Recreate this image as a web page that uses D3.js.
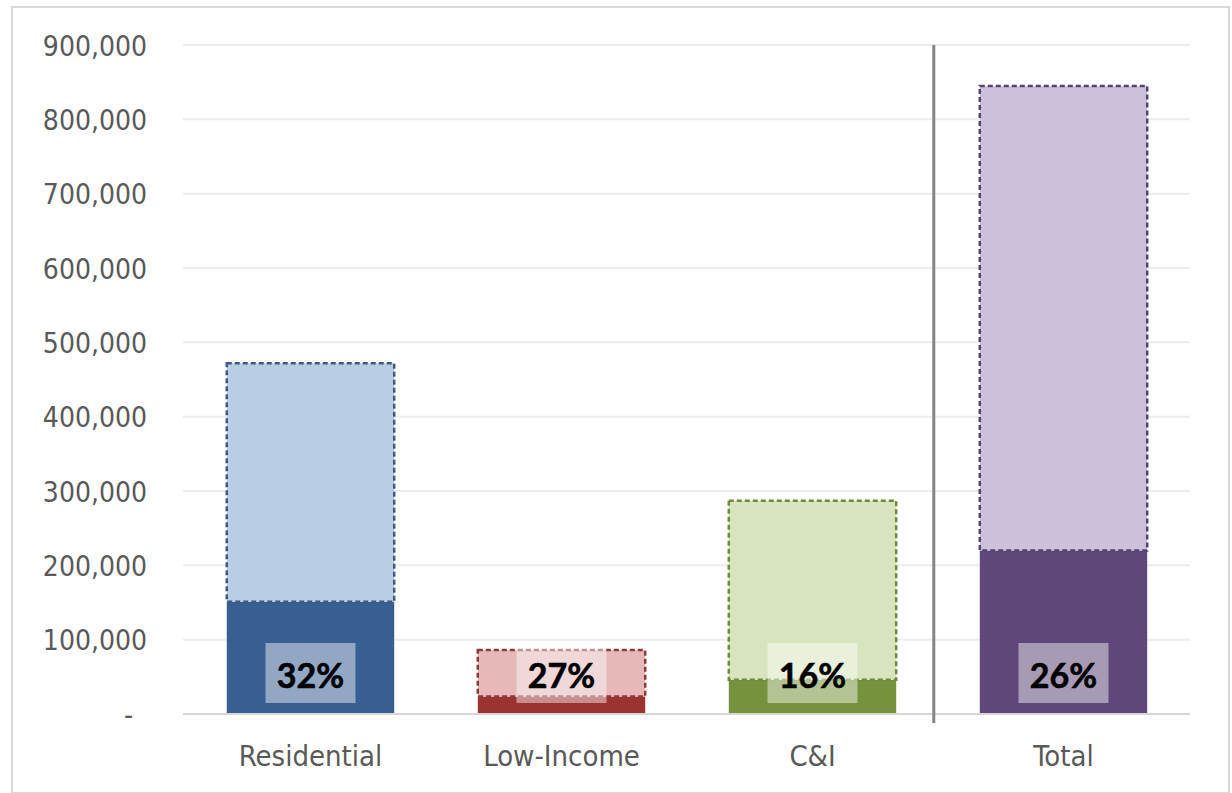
<!DOCTYPE html>
<html>
<head>
<meta charset="utf-8">
<script src="https://cdn.jsdelivr.net/npm/d3@7"></script>
<style>
  html, body { margin: 0; padding: 0; background: #fff; }
  svg { display: block; }
</style>
</head>
<body>
<svg id="chart" width="1232" height="793"></svg>
<script>
// Program segments and their savings: full potential vs. achieved portion
const categories = ["Residential", "Low-Income", "C&I", "Total"];
const potential  = [472000, 86000, 287000, 845000];
const achieved   = [151000, 23500, 46000, 220000];
const yTicks     = [0, 100000, 200000, 300000, 400000, 500000, 600000, 700000, 800000, 900000];

// Fill colours per segment: [achieved (dark), remaining (light)]
const darkColors  = ["#375F92", "#9B3430", "#76923C", "#5F4879"];
const lightColors = ["#B9CDE5", "#E6B9B8", "#D7E4BD", "#CCC0DA"];
const edgeColors  = ["#3E5A84", "#8E3A38", "#6E8A3A", "#54456F"];

const svg = d3.select("#chart");

// chart frame
svg.append("rect")
  .attr("x", 12).attr("y", 7)
  .attr("width", 1217).attr("height", 786)
  .attr("fill", "#fff")
  .attr("stroke", "#d9d9d9")
  .attr("stroke-width", 2);

const x = d3.scaleBand()
  .domain(categories)
  .range([185, 1189])
  .paddingInner(0.333)
  .paddingOuter(0.1665);

const y = d3.scaleLinear()
  .domain([0, 900000])
  .range([714, 45]);

// horizontal gridlines
svg.append("g")
  .selectAll("line")
  .data(yTicks.filter(d => d > 0))
  .join("line")
  .attr("x1", 183).attr("x2", 1190)
  .attr("y1", d => y(d)).attr("y2", d => y(d))
  .attr("stroke", "#ececec")
  .attr("stroke-width", 2);

// y-axis labels
const yAxis = d3.axisLeft(y)
  .tickValues(yTicks)
  .tickSize(0)
  .tickPadding(0)
  .tickFormat(d => d === 0 ? "-" : d3.format(",")(d));

const yg = svg.append("g")
  .attr("transform", "translate(147,0)")
  .call(yAxis);
yg.select(".domain").remove();
yg.selectAll("text")
  .attr("font-family", "'DejaVu Sans Condensed', 'DejaVu Sans', sans-serif")
  .attr("font-size", 28)
  .attr("fill", "#595959")
  .attr("dy", "0.36em")
  .attr("dx", d => d === 0 ? -14 : 0);

const rows = categories.map((c, i) => ({
  cat: c,
  total: potential[i],
  done: achieved[i],
  dark: darkColors[i],
  light: lightColors[i],
  edge: edgeColors[i]
}));

const bars = svg.append("g").selectAll("g")
  .data(rows)
  .join("g");

// achieved portion
bars.append("rect")
  .attr("x", d => x(d.cat))
  .attr("width", x.bandwidth())
  .attr("y", d => y(d.done))
  .attr("height", d => y(0) - y(d.done))
  .attr("fill", d => d.dark);

// remaining potential, stacked on top with a dashed outline
bars.append("rect")
  .attr("x", d => x(d.cat))
  .attr("width", x.bandwidth())
  .attr("y", d => y(d.total))
  .attr("height", d => y(d.done) - y(d.total))
  .attr("fill", d => d.light)
  .attr("stroke", d => d.edge)
  .attr("stroke-width", 2.5)
  .attr("stroke-dasharray", "5 3");

// baseline
svg.append("line")
  .attr("x1", 183).attr("x2", 1190)
  .attr("y1", y(0)).attr("y2", y(0))
  .attr("stroke", "#d6d6d6")
  .attr("stroke-width", 2);

// separator between segments and the total
const dividerX = x("Total") - 46;
svg.append("line")
  .attr("x1", dividerX).attr("x2", dividerX)
  .attr("y1", y(900000)).attr("y2", y(0) + 9)
  .attr("stroke", "#858585")
  .attr("stroke-width", 3);

// share labels near the base of each bar
const pct = d3.format(".0%");
const labels = bars.append("g")
  .attr("transform", d => `translate(${x(d.cat) + x.bandwidth() / 2},${y(0) - 11})`);

labels.append("rect")
  .attr("x", -45).attr("y", -60)
  .attr("width", 90).attr("height", 60)
  .attr("fill", "#fff")
  .attr("fill-opacity", 0.45);

labels.append("text")
  .attr("text-anchor", "middle")
  .attr("y", -15)
  .attr("font-family", "Lato, 'Open Sans', sans-serif")
  .attr("font-weight", 700)
  .attr("font-size", 34)
  .attr("fill", "#000")
  .attr("stroke", "#000")
  .attr("stroke-width", 0.6)
  .text(d => pct(d.done / d.total));

// category labels
const xAxis = d3.axisBottom(x).tickSize(0).tickPadding(0);
const xg = svg.append("g")
  .attr("transform", `translate(0,${y(0)})`)
  .call(xAxis);
xg.select(".domain").remove();
xg.selectAll("text")
  .attr("font-family", "'DejaVu Sans Condensed', 'DejaVu Sans', sans-serif")
  .attr("font-size", 29)
  .attr("fill", "#595959")
  .attr("dy", 0)
  .attr("y", 52);
</script>
</body>
</html>
